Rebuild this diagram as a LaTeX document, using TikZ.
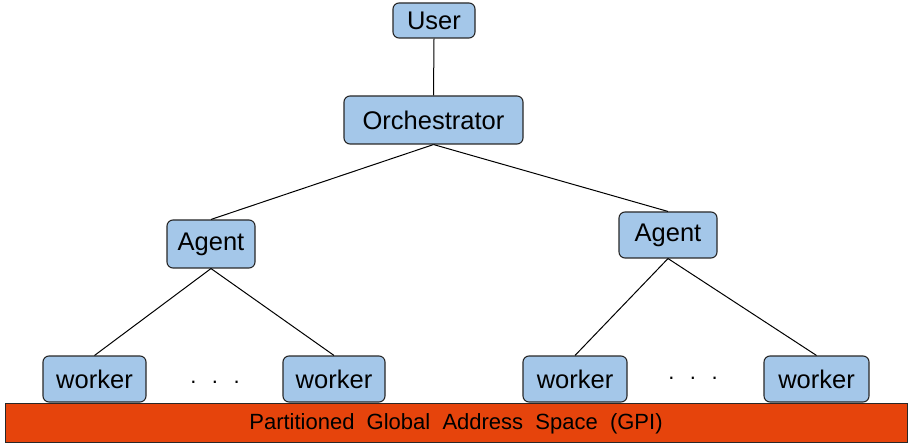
\documentclass[tikz,border=0pt]{standalone}
\usepackage{fontspec}
\setmainfont{Liberation Sans}
\definecolor{boxblue}{RGB}{164,199,233}
\definecolor{gpiorange}{RGB}{230,68,12}
\definecolor{edgegray}{RGB}{40,40,40}
\tikzset{
  role/.style={draw=edgegray, line width=1.1pt, fill=boxblue, rounded corners=6pt,
    inner sep=0pt, font=\fontsize{25.5}{28}\selectfont, text=black},
  link/.style={draw=black, line width=1pt},
  dotsep/.style={font=\fontsize{22}{24}\selectfont}
}
\newcommand{\threedots}{.\hspace{15.5pt}.\hspace{15.5pt}.}
\begin{document}
\begin{tikzpicture}[x=1pt, y=-1pt]
  \useasboundingbox (0,0) rectangle (909,443);
  % shared memory bar
  \node[draw=edgegray, line width=1pt, fill=gpiorange, inner sep=0pt,
        minimum width=902pt, minimum height=39pt] (gpi) at (456,422.5) {};
  \node[font=\fontsize{22}{24}\selectfont, inner sep=0pt] (gpitext) at (456,424)
        {Partitioned~~Global~~Address~~Space~~(GPI)};
  % hierarchy
  \node[role, minimum width=82pt, minimum height=35pt] (user) at (434,20.5) {User};
  \node[role, minimum width=179pt, minimum height=48pt] (orch) at (433.5,120) {Orchestrator};
  \node[role, minimum width=88pt, minimum height=48pt] (agl) at (211,244) {Agent};
  \node[role, minimum width=98pt, minimum height=46pt] (agr) at (668,235) {Agent};
  \node[role, minimum width=103pt, minimum height=46pt] (w1) at (94.5,379) {worker};
  \node[role, minimum width=102pt, minimum height=46pt] (w2) at (334,379) {worker};
  \node[role, minimum width=104pt, minimum height=46pt] (w3) at (575,379) {worker};
  \node[role, minimum width=105pt, minimum height=46pt] (w4) at (816.5,379) {worker};
  % ellipses between workers
  \node[dotsep] (dl) at (215,382) {\threedots};
  \node[dotsep] (dr) at (693,378) {\threedots};
  % connectors
  \draw[link] (user.south) -- (orch.north);
  \draw[link] (orch.south) -- (agl.north);
  \draw[link] (orch.south) -- (agr.north);
  \draw[link] (agl.south) -- (w1.north);
  \draw[link] (agl.south) -- (w2.north);
  \draw[link] (agr.south) -- (w3.north);
  \draw[link] (agr.south) -- (w4.north);
\end{tikzpicture}
\end{document}
